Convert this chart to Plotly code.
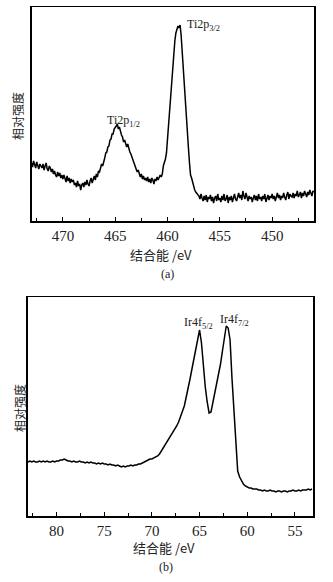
import numpy as np
import plotly.graph_objects as go

# ---------------- data ----------------
# Panel (a): Ti 2p spectrum, energies from 473.0 eV downward in 0.1 eV steps
ti_start = 473.0
ti_step = 0.1
ti_intensity = [
    58, 54, 60, 55, 53, 59, 56, 52, 57, 55,
    53, 57, 51, 55, 58, 52, 50, 55, 53, 49,
    52, 47, 50, 46, 44, 49, 45, 48, 43, 46,
    42, 46, 41, 39, 45, 40, 43, 38, 42, 39,
    41, 36, 38, 34, 40, 35, 37, 31, 36, 38,
    34, 39, 36, 41, 37, 35, 40, 43, 38, 42,
    45, 41, 47, 44, 50, 49, 54, 57, 55, 61,
    63, 68, 69, 74, 75, 81, 82, 87, 87, 92,
    93, 95, 97, 92, 94, 89, 86, 84, 79, 81,
    76, 74, 77, 72, 69, 67, 63, 61, 58, 55,
    52, 49, 51, 46, 44, 47, 42, 45, 41, 43,
    40, 44, 39, 42, 38, 43, 41, 37, 42, 40,
    44, 41, 43, 46, 44, 47, 55, 58, 62, 68,
    82, 98, 116, 130, 146, 158, 169, 180, 188, 192,
    195, 193, 196, 186, 168, 152, 135, 117, 100, 86,
    73, 58, 46, 43, 39, 34, 31, 29, 28, 26,
    25, 22, 27, 23, 20, 25, 21, 26, 19, 24,
    22, 26, 20, 24, 18, 23, 25, 20, 27, 21,
    23, 19, 25, 21, 27, 20, 22, 26, 18, 24,
    21, 25, 19, 23, 27, 22, 20, 24, 28, 23,
    26, 21, 30, 25, 22, 28, 24, 20, 25, 22,
    24, 19, 23, 26, 21, 25, 20, 27, 22, 24,
    20, 25, 22, 27, 19, 24, 26, 21, 25, 23,
    27, 22, 25, 20, 24, 28, 23, 26, 21, 25,
    23, 28, 24, 21, 26, 29, 22, 27, 25, 24,
    28, 23, 27, 25, 30, 24, 26, 29, 23, 28,
    25, 30, 27, 24, 29, 26, 31, 28, 25, 30,
    29,
]

# Panel (b): Ir 4f spectrum, energies from 83.0 eV downward in 0.2 eV steps
ir_start = 83.0
ir_step = 0.2
ir_intensity = [
    54, 55, 54, 55, 54, 54, 55, 54, 55, 54,
    55, 54, 54, 55, 54, 55, 55, 56, 56, 57,
    56, 55, 55, 54, 55, 54, 54, 55, 54, 54,
    53, 54, 53, 54, 53, 53, 52, 53, 52, 53,
    52, 52, 51, 52, 51, 51, 50, 51, 50, 49,
    50, 49, 50, 50, 51, 50, 51, 51, 52, 52,
    53, 54, 55, 56, 57, 57, 58, 59, 60, 62,
    65, 68, 71, 74, 77, 80, 83, 86, 90, 94,
    99, 105, 110, 119, 127, 137, 147, 157, 167, 179,
    186, 173, 150, 129, 114, 103, 104, 113, 122, 131,
    141, 152, 165, 178, 190, 188, 176, 138, 105, 68,
    45, 39, 35, 32, 30, 29, 28, 28, 27, 27,
    27, 26, 26, 25, 26, 25, 25, 26, 25, 25,
    24, 25, 25, 24, 25, 25, 24, 25, 25, 26,
    25, 25, 26, 25, 26, 26, 26, 27, 26, 27,
]

ti_ticks = [470, 465, 460, 455, 450]
ir_ticks = [80, 75, 70, 65, 60, 55]

ti_energy = ti_start - ti_step * np.arange(len(ti_intensity))
ir_energy = ir_start - ir_step * np.arange(len(ir_intensity))

# ---------------- figure ----------------
W, H = 333, 582
SERIF = "Liberation Serif"
CJK = "Noto Sans CJK SC"


def px(x):
    return x / W


def py(y):
    return 1 - y / H


fig = go.Figure()
fig.add_trace(go.Scatter(x=ti_energy, y=ti_intensity, mode="lines",
                         line=dict(color="black", width=1.5),
                         xaxis="x", yaxis="y", showlegend=False))
fig.add_trace(go.Scatter(x=ir_energy, y=ir_intensity, mode="lines",
                         line=dict(color="black", width=1.5),
                         xaxis="x2", yaxis="y2", showlegend=False))

axis_common = dict(
    showline=True, mirror=True, linecolor="black", linewidth=1.5,
    ticks="inside", ticklen=4, tickwidth=1, tickcolor="black",
    showgrid=False, zeroline=False,
    tickfont=dict(family=SERIF, size=15, color="#222222"),
)

fig.update_layout(
    width=W, height=H,
    margin=dict(l=0, r=0, t=0, b=0),
    paper_bgcolor="white", plot_bgcolor="white",
    hovermode=False,
    xaxis=dict(domain=[px(31.5), px(314)], anchor="y", range=[473.0, 446.0],
               tickvals=ti_ticks,
               minor=dict(ticks="inside", ticklen=3, dtick=2.5, tick0=450,
                          tickcolor="black", showgrid=False),
               **axis_common),
    yaxis=dict(domain=[py(221), py(7)], anchor="x", range=[0, 214],
               showticklabels=False, showline=True, mirror=True,
               linecolor="black", linewidth=1.5, ticks="",
               showgrid=False, zeroline=False),
    xaxis2=dict(domain=[px(27.5), px(313)], anchor="y2", range=[83.05, 53.1],
                tickvals=ir_ticks,
                minor=dict(ticks="inside", ticklen=3, dtick=2.5, tick0=55,
                           tickcolor="black", showgrid=False),
                **axis_common),
    yaxis2=dict(domain=[py(516), py(297)], anchor="x2", range=[0, 219],
                showticklabels=False, showline=True, mirror=True,
                linecolor="black", linewidth=1.5, ticks="",
                showgrid=False, zeroline=False),
)


def note(text, x, y, size=12, angle=0, family=SERIF):
    fig.add_annotation(text=text, x=px(x), y=py(y), xref="paper", yref="paper",
                       showarrow=False, xanchor="center", yanchor="middle",
                       textangle=angle,
                       font=dict(family=family, size=size, color="#222222"))


note("Ti2p<sub>3/2</sub>", 203, 25, 12)
note("Ti2p<sub>1/2</sub>", 123, 121, 12)
note("Ir4f<sub>5/2</sub>", 198, 323, 12)
note("Ir4f<sub>7/2</sub>", 234, 320, 12)

note("结合能 /eV", 161, 254, 13, family=CJK)
note("结合能 /eV", 164, 547, 13, family=CJK)
note("相对强度", 18, 116, 12, angle=-90, family=CJK)
note("相对强度", 19, 408, 12, angle=-90, family=CJK)
note("(a)", 167, 274, 12)
note("(b)", 166, 567, 12)

fig.write_html(
    "out.html",
    config={"displayModeBar": False, "staticPlot": True},
    post_script="document.body.style.margin='0';document.body.style.overflow='hidden';",
)
